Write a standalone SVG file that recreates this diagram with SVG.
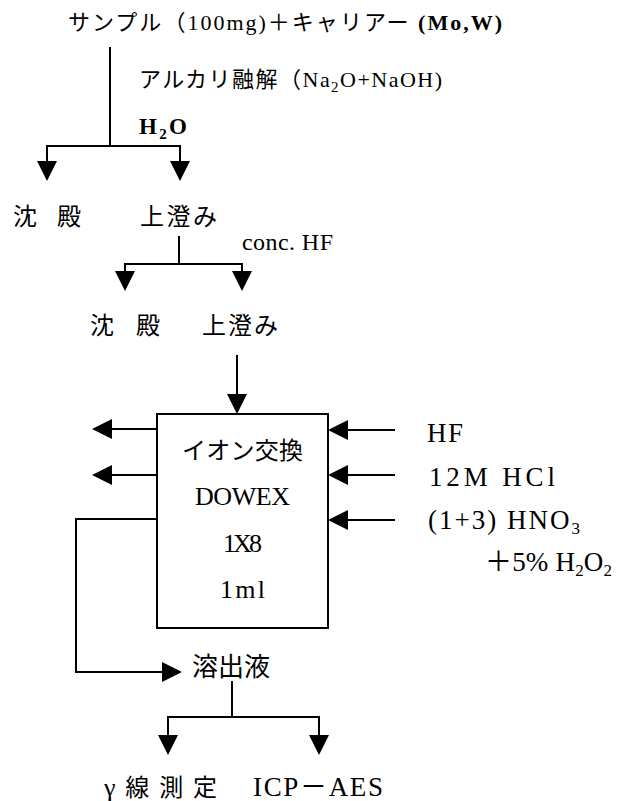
<svg xmlns="http://www.w3.org/2000/svg" width="625" height="801" viewBox="0 0 625 801">
<style>
text{font-family:'Liberation Serif','Noto Sans CJK JP',serif;fill:#000;}
.s22{font-size:22px;}
.s24{font-size:24px;}
.s26{font-size:26px;}
.s27{font-size:27px;}
.b{font-weight:bold;}
.ln{fill:none;stroke:#000;stroke-width:2;}
.box{fill:#fff;stroke:#000;stroke-width:2;}
</style>
<defs>
<marker id="ah" viewBox="0 0 20 20" refX="17" refY="10" markerWidth="20" markerHeight="20" markerUnits="userSpaceOnUse" orient="auto-start-reverse">
<path d="M0,0 L20,10 L0,20 z" fill="#000"/>
</marker>
</defs>
<rect width="625" height="801" fill="#fff"/>
<g id="connectors">
<path class="ln" d="M110,47 V146"/>
<path class="ln" d="M47,178 V146 H180 V178" marker-start="url(#ah)" marker-end="url(#ah)"/>
<path class="ln" d="M179,236 V264"/>
<path class="ln" d="M125,288 V264 H242 V288" marker-start="url(#ah)" marker-end="url(#ah)"/>
<path class="ln" d="M237,355 V411" marker-end="url(#ah)"/>
<path class="ln" d="M157,429 H95" marker-end="url(#ah)"/>
<path class="ln" d="M157,475 H95" marker-end="url(#ah)"/>
<path class="ln" d="M157,519 H76 V672 H179" marker-end="url(#ah)"/>
<path class="ln" d="M395,430 H331" marker-end="url(#ah)"/>
<path class="ln" d="M395,475 H331" marker-end="url(#ah)"/>
<path class="ln" d="M395,520 H331" marker-end="url(#ah)"/>
<path class="ln" d="M232,681 V717"/>
<path class="ln" d="M168,752 V717 H319 V752" marker-start="url(#ah)" marker-end="url(#ah)"/>
</g>
<g id="n-sample"><text class="s22" x="68" y="30" textLength="434" lengthAdjust="spacing">サンプル（100mg)＋キャリアー <tspan class="b">(Mo,W)</tspan></text></g>
<g id="l-alkali"><text class="s22" x="139" y="87" textLength="303" lengthAdjust="spacing">アルカリ融解（Na<tspan dy="5" font-size="15">2</tspan><tspan dy="-5">O+NaOH)</tspan></text></g>
<g id="l-h2o"><text class="b" font-size="23" x="139" y="134" textLength="48" lengthAdjust="spacing">H<tspan dy="5" font-size="15">2</tspan><tspan dy="-5">O</tspan></text></g>
<g id="n-ppt1"><text class="s24" x="13" y="225" textLength="68" lengthAdjust="spacing">沈 殿</text></g>
<g id="n-sup1"><text class="s24" x="140" y="225" textLength="77" lengthAdjust="spacing">上澄み</text></g>
<g id="l-hf"><text class="s24" x="242" y="250" textLength="91" lengthAdjust="spacing">conc.  HF</text></g>
<g id="n-ppt2"><text class="s24" x="90" y="334" textLength="70" lengthAdjust="spacing">沈 殿</text></g>
<g id="n-sup2"><text class="s24" x="202" y="334" textLength="76" lengthAdjust="spacing">上澄み</text></g>
<g id="n-column">
<rect class="box" x="157" y="414" width="171" height="214"/>
<text class="s24" x="182" y="459" textLength="121" lengthAdjust="spacing">イオン交換</text>
<text class="s26" x="195" y="505" textLength="95" lengthAdjust="spacing">DOWEX</text>
<text class="s26" x="223" y="552" textLength="39" lengthAdjust="spacing">1X8</text>
<text class="s26" x="220" y="598" textLength="45" lengthAdjust="spacing">1ml</text>
</g>
<g id="l-eluents">
<text class="s27" x="427" y="442" textLength="36" lengthAdjust="spacing">HF</text>
<text class="s27" x="429" y="486" textLength="126" lengthAdjust="spacing">12M  HCl</text>
<text class="s27" x="428" y="529" textLength="152" lengthAdjust="spacing">(1+3)  HNO<tspan dy="5" font-size="17">3</tspan></text>
<text class="s27" x="485" y="571" textLength="127" lengthAdjust="spacing">＋5%  H<tspan dy="5" font-size="17">2</tspan><tspan dy="-5">O</tspan><tspan dy="5" font-size="17">2</tspan></text>
</g>
<g id="n-eluate"><text class="s26" x="192" y="676" textLength="78" lengthAdjust="spacing">溶出液</text></g>
<g id="n-gamma"><text class="s24" x="104" y="796" textLength="113" lengthAdjust="spacing"><tspan font-size="26">γ</tspan>線測定</text></g>
<g id="n-icp"><text class="s27" x="253" y="796" textLength="130" lengthAdjust="spacing">ICP－AES</text></g>
</svg>
